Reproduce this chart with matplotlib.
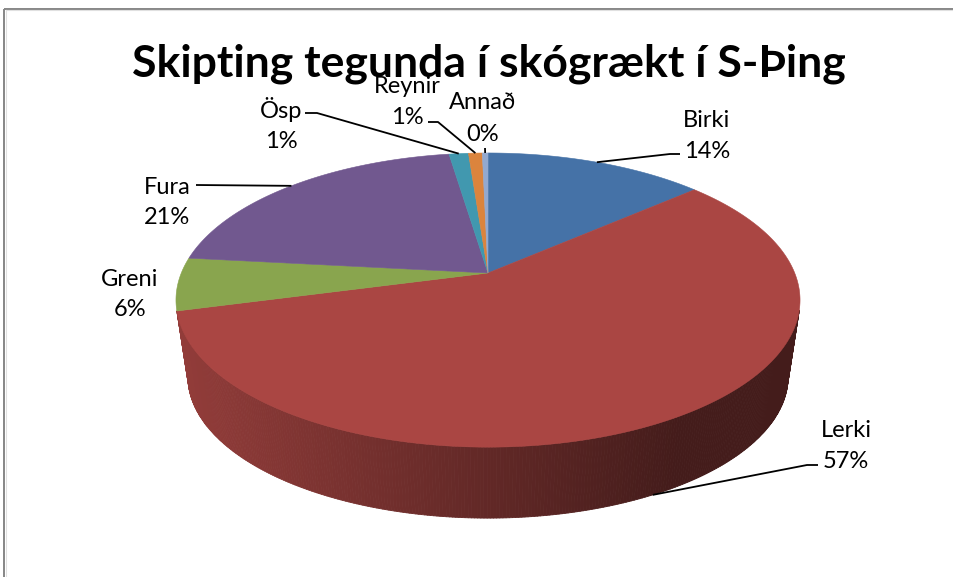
import numpy as np
import matplotlib
matplotlib.use('Agg')
import matplotlib.pyplot as plt
from matplotlib.collections import PolyCollection
from matplotlib.patches import Polygon
from matplotlib.colors import to_rgb

# ---------------- data ----------------
title = "Skipting tegunda í skógrækt í S-Þing"
categories = ["Birki", "Lerki", "Greni", "Fura", "Ösp", "Reynir", "Annað"]
values = [13.6, 57.3, 5.8, 20.9, 1.2, 0.85, 0.35]
colors = ["#4572A7", "#AA4643", "#89A54E", "#71588F", "#4198AF", "#DB843D", "#93A9CF"]

# ---------------- layout ----------------
W, H = 954, 577
FONT = ['Lato', 'DejaVu Sans']
plt.rcParams['font.family'] = FONT

fig = plt.figure(figsize=(W / 100, H / 100), dpi=100)
ax = fig.add_axes([0, 0, 1, 1])
ax.set_xlim(0, W)
ax.set_ylim(H, 0)
ax.axis('off')

# frame (only top and left edges are inside the picture)
ax.plot([4.5, W + 5], [8.5, 8.5], color='#868686', lw=1.4, zorder=0, solid_capstyle='butt')
ax.plot([4.5, 4.5], [8.5, H + 5], color='#868686', lw=1.4, zorder=0, solid_capstyle='butt')
ax.plot([6.2, W + 5], [10.2, 10.2], color='#e0e0e0', lw=0.8, zorder=0)
ax.plot([6.2, 6.2], [10.2, H + 5], color='#e0e0e0', lw=0.8, zorder=0)

# projection of the pie (perspective)
CX, CY = 488, 273
A, C, K = 306.7, 142.1, 0.184
VY, S = 2300, 0.9617


def top_pt(theta):
    x = np.sin(theta)
    y = np.cos(theta)
    d = 1 + K * y
    return CX + A * x / d, CY - C * y / d


def bot_pt(theta):
    X, Y = top_pt(theta)
    return CX + S * (X - CX), VY - S * (VY - Y)


def shade(x):
    f = 0.86 - 0.46 * (x - 176) / (680 - 176)
    return float(np.clip(f, 0.40, 0.86))


total = sum(values)
fracs = [v / total for v in values]
starts = np.cumsum([0] + fracs[:-1]) * 2 * np.pi
ends = starts + np.array(fracs) * 2 * np.pi

# sides (front-facing quads only)
quads, qcols = [], []
for s0, e0, col in zip(starts, ends, colors):
    n = max(2, int((e0 - s0) / (2 * np.pi) * 720))
    th = np.linspace(s0, e0, n + 1)
    tx, ty = top_pt(th)
    bx, by = bot_pt(th)
    base = np.array(to_rgb(col))
    for i in range(n):
        ex, ey = tx[i + 1] - tx[i], ty[i + 1] - ty[i]
        vx, vy = bx[i] - tx[i], by[i] - ty[i]
        if ex * vy - ey * vx >= 0:
            continue
        quads.append([(tx[i], ty[i]), (tx[i + 1], ty[i + 1]), (bx[i + 1], by[i + 1]), (bx[i], by[i])])
        xm = 0.5 * (tx[i] + tx[i + 1])
        qcols.append(tuple(base * shade(xm)))
pc = PolyCollection(quads, facecolors=qcols, edgecolors=qcols, linewidths=0.6, zorder=1)
ax.add_collection(pc)

# top faces
for s0, e0, col in zip(starts, ends, colors):
    n = max(2, int((e0 - s0) / (2 * np.pi) * 720))
    th = np.linspace(s0, e0, n + 1)
    tx, ty = top_pt(th)
    pts = [(CX, CY)] + list(zip(tx, ty))
    ax.add_patch(Polygon(pts, closed=True, facecolor=col, edgecolor=col, lw=0.4, zorder=2))

# title
ax.text(489, 76, title, ha='center', va='baseline', fontsize=32, fontweight='bold',
        color='black', family=FONT, zorder=5)

# labels: (x, baseline name, baseline pct)
label_pos = {
    "Birki": (707, 127, 158),
    "Lerki": (846, 437, 468),
    "Greni": (130, 286, 316),
    "Fura": (167, 194, 224),
    "Ösp": (281, 118, 148),
    "Reynir": (407, 93, 124),
    "Annað": (483, 109, 141),
}
leader_anchor = {
    "Birki": [(680, 154), (670, 154)],
    "Lerki": [(818, 465), (807, 465)],
    "Greni": None,
    "Fura": [(196, 185)],
    "Ösp": [(305, 113), (317, 113)],
    "Reynir": [(428, 122), (438, 122)],
    "Annað": [(485, 148)],
}

for cat, f, s0, e0 in zip(categories, fracs, starts, ends):
    x, b1, b2 = label_pos[cat]
    ax.text(x, b1, cat, ha='center', va='baseline', fontsize=17, color='black', family=FONT, zorder=5)
    ax.text(x, b2, f"{round(f * 100):d}%", ha='center', va='baseline', fontsize=17,
            color='black', family=FONT, zorder=5)
    anc = leader_anchor[cat]
    if anc:
        mid = 0.5 * (s0 + e0)
        if cat == "Lerki":
            px, py = bot_pt(mid)
        else:
            px, py = top_pt(mid)
        pts = anc + [(px, py)]
        ax.plot([p[0] for p in pts], [p[1] for p in pts], color='black', lw=1.3, zorder=4,
                solid_capstyle='butt')

fig.savefig('out.png', dpi=100, facecolor='white')
